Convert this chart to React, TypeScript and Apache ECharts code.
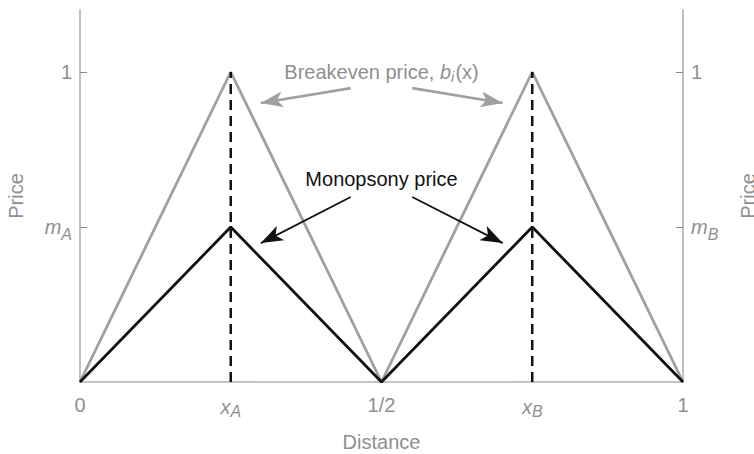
import React, { useEffect, useRef } from "react";
import * as echarts from "echarts";

// ---- data ----
const xTickValues = [0, 0.25, 0.5, 0.75, 1];
const xTickLabels = ["0", "x_A", "1/2", "x_B", "1"];
const breakevenX = [0, 0.25, 0.5, 0.75, 1];
const breakevenY = [0, 1, 0, 1, 0];
const monopsonyY = [0, 0.5, 0, 0.5, 0];
const firmLocations = [0.25, 0.75];
const peakBreakeven = 1;
const mA = 0.5;
const mB = 0.5;
const leftTickValues = [mA, 1];
const leftTickLabels = ["m_A", "1"];
const rightTickValues = [mB, 1];
const rightTickLabels = ["m_B", "1"];
const breakevenArrows = [
  [[0.449, 0.948], [0.3, 0.9]],
  [[0.551, 0.948], [0.701, 0.9]],
];
const monopsonyArrows = [
  [[0.449, 0.597], [0.3, 0.448]],
  [[0.551, 0.597], [0.701, 0.448]],
];
const breakevenLabelPos = [0.5, 1.0];
const monopsonyLabelPos = [0.5, 0.655];

const FONT = "'Liberation Sans', Arial, Helvetica, sans-serif";
const GRAY_TEXT = "#8f8f8f";
const AXIS_GRAY = "#b0b0b0";
const LINE_GRAY = "#a0a0a0";
const BLACK = "#111111";

const toRich = (s: string) => {
  const i = s.indexOf("_");
  if (i < 0) return s;
  return `{i|${s.slice(0, i)}}{s|${s.slice(i + 1)}}`;
};

const richStyles = (sub: number) => ({
  i: { fontStyle: "italic", fontSize: 20, fontFamily: FONT, color: GRAY_TEXT },
  s: {
    fontStyle: "italic",
    fontSize: 16,
    fontFamily: FONT,
    color: GRAY_TEXT,
    padding: [sub, 0, 0, 0],
  },
});

export default function App() {
  const ref = useRef<HTMLDivElement>(null);
  useEffect(() => {
    if (!ref.current) return;
    document.body.style.margin = "0";
    document.body.style.overflow = "hidden";
    const chart = echarts.init(ref.current, null, { renderer: "svg" });
    const mk = (xs: number[], ys: number[]) => xs.map((x, k) => [x, ys[k]]);
    const labelFor = (vals: number[], labs: string[]) => (v: number) => {
      const k = vals.findIndex((t) => Math.abs(t - v) < 1e-9);
      return k >= 0 ? toRich(labs[k]) : "";
    };
    const yAxisCommon = (vals: number[], labs: string[], pos: "left" | "right", gap: number) => ({
      type: "value",
      position: pos,
      min: 0,
      max: 1.2,
      name: "Price",
      nameLocation: "middle",
      nameGap: gap,
      nameRotate: 90,
      nameTextStyle: { color: GRAY_TEXT, fontSize: 20, fontFamily: FONT },
      axisLine: { show: true, lineStyle: { color: AXIS_GRAY, width: 1.6 } },
      axisTick: {
        show: true,
        inside: true,
        length: 7,
        customValues: vals,
        lineStyle: { color: "#888", width: 1 },
      },
      axisLabel: {
        show: true,
        customValues: vals,
        margin: 8,
        color: GRAY_TEXT,
        fontSize: 20,
        fontFamily: FONT,
        formatter: labelFor(vals, labs),
        rich: richStyles(14),
      },
      splitLine: { show: false },
    });
    chart.setOption({
      animation: false,
      backgroundColor: "#ffffff",
      grid: {
        left: 80,
        right: 71,
        top: 10,
        bottom: 72,
        containLabel: false,
        outerBoundsMode: "none",
      },
      xAxis: {
        type: "value",
        min: 0,
        max: 1,
        name: "Distance",
        nameLocation: "middle",
        nameGap: 50,
        nameTextStyle: { color: GRAY_TEXT, fontSize: 20, fontFamily: FONT },
        axisLine: { show: true, lineStyle: { color: AXIS_GRAY, width: 1.6 } },
        axisTick: { show: false },
        axisLabel: {
          customValues: xTickValues,
          margin: 13,
          color: GRAY_TEXT,
          fontSize: 20,
          fontFamily: FONT,
          formatter: labelFor(xTickValues, xTickLabels),
          rich: richStyles(8),
        },
        splitLine: { show: false },
      },
      yAxis: [
        yAxisCommon(leftTickValues, leftTickLabels, "left", 54),
        yAxisCommon(rightTickValues, rightTickLabels, "right", 55),
      ],
      series: [
        {
          name: "Breakeven price",
          type: "line",
          data: mk(breakevenX, breakevenY),
          symbol: "none",
          lineStyle: { color: LINE_GRAY, width: 2.8 },
          z: 2,
          markLine: {
            silent: true,
            symbol: ["none", "arrow"],
            symbolSize: [12, 22],
            label: { show: false },
            lineStyle: { color: LINE_GRAY, width: 2.6, type: "solid" },
            data: breakevenArrows.map(([a, b]) => [{ coord: a }, { coord: b }]),
          },
          markPoint: {
            silent: true,
            symbol: "circle",
            symbolSize: 0,
            data: [{ coord: breakevenLabelPos }],
            label: {
              show: true,
              position: "inside",
              color: GRAY_TEXT,
              fontSize: 20,
              fontFamily: FONT,
              formatter: "{g|Breakeven price, }{b|b}{s|i}{g|(x)}",
              rich: {
                g: { color: GRAY_TEXT, fontSize: 20, fontFamily: FONT },
                b: { color: GRAY_TEXT, fontSize: 20, fontFamily: FONT, fontStyle: "italic" },
                s: {
                  color: GRAY_TEXT,
                  fontSize: 15,
                  fontFamily: FONT,
                  fontStyle: "italic",
                  padding: [8, 1, 0, 0],
                },
              },
            },
          },
        },
        ...firmLocations.map((x) => ({
          name: "Firm location",
          type: "line",
          data: [
            [x, 0],
            [x, peakBreakeven],
          ],
          symbol: "none",
          lineStyle: { color: BLACK, width: 2.5, type: [10, 6] },
          z: 3,
        })),
        {
          name: "Monopsony price",
          type: "line",
          data: mk(breakevenX, monopsonyY),
          symbol: "none",
          lineStyle: { color: BLACK, width: 2.8 },
          z: 4,
          markLine: {
            silent: true,
            symbol: ["none", "arrow"],
            symbolSize: [12, 22],
            label: { show: false },
            lineStyle: { color: BLACK, width: 1.7, type: "solid" },
            data: monopsonyArrows.map(([a, b]) => [{ coord: a }, { coord: b }]),
          },
          markPoint: {
            silent: true,
            symbol: "circle",
            symbolSize: 0,
            data: [{ coord: monopsonyLabelPos }],
            label: {
              show: true,
              position: "inside",
              color: BLACK,
              fontSize: 20,
              fontFamily: FONT,
              formatter: "Monopsony price",
            },
          },
        },
      ],
    });
    return () => chart.dispose();
  }, []);
  return (
    <div
      style={{
        position: "fixed",
        left: 0,
        top: 0,
        width: 754,
        height: 454,
        overflow: "hidden",
        background: "#fff",
      }}
    >
      <div ref={ref} style={{ width: 754, height: 454 }} />
    </div>
  );
}
